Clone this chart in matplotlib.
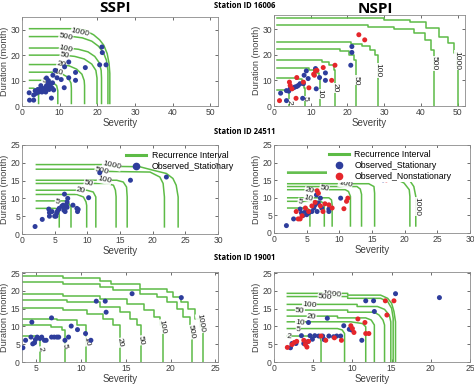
import matplotlib
matplotlib.use('Agg')
import matplotlib.pyplot as plt
from matplotlib.lines import Line2D

plt.rcParams['font.family'] = ['Liberation Sans', 'DejaVu Sans']

GREEN = '#5dbb46'
BLUE = '#2e3d9c'
RED = '#e5262b'
TXT = '#404040'

# ---------------- Panel 1: SSPI, station 16006 ----------------
p1_blue_x = [1.9, 2.0, 3.1, 3.1, 3.5, 3.8, 4.2, 4.5, 4.8, 5.0, 5.3, 5.5, 5.8, 6.0, 6.3, 6.5, 6.8, 7.0,
             7.2, 7.5, 7.8, 8.0, 8.1, 8.2, 8.4, 8.8, 9.3, 10.4, 11.2, 11.3, 12.4, 12.4, 14.2, 14.2,
             16.8, 20.6, 21.2, 21.3, 22.3, 6.5, 7.0, 5.0]
p1_blue_y = [5.2, 2.3, 2.3, 4.3, 6.0, 5.0, 6.5, 5.5, 6.0, 7.0, 5.5, 6.5, 6.0, 7.0, 5.5, 8.0, 7.0, 9.0,
             6.5, 8.0, 3.1, 7.0, 9.1, 12.1, 6.3, 14.0, 11.1, 10.4, 7.2, 15.4, 17.3, 11.1, 13.2, 10.1,
             15.1, 16.2, 23.2, 21.0, 16.2, 11.0, 10.0, 8.0]
p1_contours = {
    '1000': ([2, 14.2, 16.8, 19, 20.6, 21.7, 22.6, 23.1, 23.3, 23.3], [30.4, 30.4, 29.7, 28, 26, 23.9, 20.6, 16.7, 12.8, 1]),
    '500': ([2, 13.5, 16, 18.5, 20.3, 21.6, 22.4, 22.8, 22.8], [27.3, 27.3, 26.8, 25.5, 23.5, 21, 18, 14, 1]),
    '100': ([2, 12, 15, 17.5, 19.3, 20.5, 21, 21.1, 21.1], [22.8, 22.8, 22.3, 21.3, 19.5, 17, 14, 11, 1]),
    '50': ([2, 11, 14, 16.5, 18.5, 19.6, 19.9, 19.9], [20, 20, 19.5, 18.5, 16.5, 14, 11, 1]),
    '20': ([2, 10, 12.5, 14.5, 15.9, 16.5, 16.6, 16.6], [16.3, 16.3, 15.8, 14.5, 12.5, 10, 8, 1]),
    '10': ([2, 8, 10.5, 12.2, 13, 13.1, 13.1], [13.3, 13.3, 12.7, 11.3, 9, 7, 1]),
    '5': ([2, 6, 8, 9.2, 9.5, 9.5], [10.1, 10.1, 9.5, 8, 6, 1]),
    '2': ([2, 3, 4, 4.4, 4.4], [7, 7, 6.5, 5, 1]),
}
p1_labels = [('1000', 15.5, 28.9), ('500', 11.6, 27.1), ('100', 11.7, 22.4), ('50', 11.3, 19.9),
             ('20', 10.4, 16.2), ('10', 9.6, 13.1), ('5', 5.8, 10.0)]

# ---------------- Panel 2: NSPI, station 16006 ----------------
p2_blue_x = [1.8, 3.4, 3.4, 4.0, 4.4, 5.3, 5.7, 6.6, 7.1, 6.2, 8.0, 8.2, 8.8, 9.3, 7.8, 11.3, 11.5,
             12.4, 14.0, 14.0, 20.9, 21.2, 21.2]
p2_blue_y = [5.0, 6.0, 2.1, 5.8, 6.7, 7.1, 7.4, 8.0, 8.7, 7.6, 8.7, 12.0, 13.7, 10.7, 3.0, 14.6, 6.7,
             11.1, 12.9, 10.0, 15.9, 20.9, 23.2]
p2_red_x = [1.5, 4.2, 4.4, 6.0, 6.2, 4.9, 8.0, 9.5, 10.8, 11.3, 11.7, 11.0, 13.4, 15.7, 16.6, 23.1, 24.7]
p2_red_y = [2.1, 9.3, 8.0, 3.0, 11.1, 6.7, 9.3, 7.1, 12.4, 13.7, 13.9, 12.0, 15.0, 10.0, 15.9, 27.8, 25.8]
p2_contours = {
    '1000': ([0.8, 19.4, 30, 37, 41.5, 45, 47.3, 49, 49.9, 50.2], [34.3, 34.3, 33.7, 32.6, 30.4, 27, 24.5, 20.5, 15.3, 0]),
    '500': ([0.8, 16.8, 25.6, 32.7, 38, 41, 42.8, 43.5, 43.6], [31.7, 31.7, 31, 30, 28.4, 25.8, 21.8, 16.6, 0]),
    '100': ([0.8, 18.5, 21, 24, 26, 27.5, 28.2, 28.4], [24.9, 24.9, 24.2, 23.5, 22, 20, 17, 0]),
    '50': ([0.8, 15, 18, 20.5, 21.8, 22.3, 22.3], [22.1, 22.1, 21.3, 20, 18, 15, 0]),
    '20': ([0.8, 11, 13, 15, 16.2, 16.5, 16.5], [17.9, 17.9, 17.3, 16, 14, 11, 0]),
    '10': ([0.8, 7.5, 9.5, 11.3, 12.2, 12.4, 12.4], [14.9, 14.9, 14.2, 13, 11, 8, 0]),
    '5': ([0.8, 4, 6, 7.5, 8.2, 8.4, 8.4], [11.1, 11.1, 10.5, 9, 7, 4, 0]),
    '2': ([0.8, 2, 3, 4, 4.2, 4.2], [6.3, 6.3, 5.8, 4.5, 2, 0]),
}
p2_labels = [('1000', 49.9, 17.9), ('500', 43.6, 16.6), ('100', 28.4, 13.9), ('50', 22.3, 10.0),
             ('20', 16.5, 7.1), ('10', 12.4, 4.7), ('5', 8.4, 3.0), ('2', 4.2, 1.6)]

# ---------------- Panel 3: SSPI, station 24511 ----------------
p3_blue_x = [2.0, 3.1, 4.1, 4.2, 4.2, 4.6, 5.0, 5.2, 5.3, 5.4, 5.6, 5.7, 6.1, 6.3, 6.4, 6.5, 6.5, 6.6,
             6.8, 6.9, 7.0, 6.9, 7.8, 8.4, 8.5, 8.6, 10.2, 11.9, 16.6, 22.1]
p3_blue_y = [2.1, 4.1, 7.0, 6.0, 5.0, 6.3, 5.0, 5.0, 5.8, 6.3, 6.9, 7.2, 7.8, 8.1, 6.7, 7.2, 11.2, 6.3,
             8.1, 9.0, 10.0, 7.5, 8.1, 7.2, 6.3, 6.9, 10.2, 17.2, 15.1, 16.0]
p3_contours = {
    '1000': ([2.2, 13, 13.5, 18, 20.1, 22.1, 23.1, 23.6, 23.9, 23.9], [19.5, 19.5, 19.0, 18.9, 17.9, 17, 15.6, 13.7, 10.4, 2]),
    '500': ([2.2, 11.9, 12.3, 19.6, 21.1, 21.6, 21.8, 21.8], [18.2, 18.2, 17.6, 17.4, 16, 14.2, 10.4, 2]),
    '100': ([2.2, 14.5, 15.5, 16, 16.1, 16.1], [15.1, 15.1, 14.6, 13.2, 10.4, 2]),
    '50': ([2.2, 13, 14, 14.3, 14.4, 14.4], [14.2, 14.2, 13.7, 12.3, 10.5, 2]),
    '20': ([2.2, 9.9, 10.9, 11.3, 11.3], [12.3, 12.3, 11.8, 10.4, 2]),
    '10': ([2.2, 8.4, 9.4, 9.8, 9.9, 9.9], [11.1, 11.1, 10.4, 9, 8, 2]),
    '5': ([2.2, 6.6, 7.1, 7.5, 7.5], [9.3, 9.3, 8.8, 7.6, 2]),
    '2': ([2.2, 5.1, 5.6, 5.7, 5.7], [7.2, 7.2, 6.7, 5.3, 2]),
}
p3_labels = [('1000', 13.7, 19.1), ('500', 12.2, 17.8), ('100', 12.6, 15.1), ('50', 10.2, 14.2),
             ('20', 9.0, 12.1), ('5', 5.4, 9.1)]

# ---------------- Panel 4: NSPI, station 24511 ----------------
p4_blue_x = [1.9, 3.0, 4.0, 4.2, 4.4, 4.8, 5.0, 5.3, 5.8, 6.1, 6.3, 6.5, 6.6, 6.8, 7.1, 7.3, 8.4, 8.4,
             10.2, 11.9, 16.7, 22.2]
p4_blue_y = [2.1, 4.0, 6.8, 5.7, 4.9, 6.1, 5.2, 5.7, 6.1, 7.1, 8.0, 10.8, 6.1, 8.5, 9.9, 7.1, 6.1, 6.8,
             9.9, 17.2, 15.1, 16.0]
p4_red_x = [3.4, 3.7, 4.0, 4.3, 4.8, 5.3, 5.8, 6.3, 6.6, 6.8, 7.1, 7.5, 7.8, 8.4, 8.9, 10.7, 11.1,
            11.3, 15.3, 17.2]
p4_red_y = [6.1, 4.0, 4.0, 4.9, 7.1, 6.1, 7.7, 8.7, 12.0, 11.3, 7.7, 6.1, 8.3, 8.0, 7.1, 6.9, 9.0,
            9.9, 17.0, 15.1]
p4_contours = {
    '1000': ([2.1, 18.9, 19.4, 20.7, 21.4, 21.7, 21.7], [17.3, 17.3, 16.5, 15.1, 13.2, 10.4, 2]),
    '500': ([2.1, 16.8, 18.9, 19.9, 20.7, 20.8, 20.8], [17.0, 17.0, 15.1, 14.2, 12.3, 10.4, 2]),
    '100': ([2.1, 14.5, 15.3, 15.4, 15.4], [14.0, 14.0, 13.2, 11.3, 2]),
    '50': ([2.1, 12.7, 13.2, 13.4, 13.4], [13.2, 13.2, 12.5, 11, 2]),
    '20': ([2.1, 10.9, 11.4, 11.7, 11.7], [12.3, 12.3, 11.8, 10.4, 2]),
    '10': ([2.1, 8.4, 8.8, 8.9, 8.9], [10.0, 10.0, 9.4, 8, 2]),
    '5': ([2.1, 7.1, 7.6, 7.7, 7.7], [9.0, 9.0, 8.5, 7.3, 2]),
    '2': ([2.1, 5.0, 5.4, 5.5, 5.5], [7.1, 7.1, 6.6, 5.6, 2]),
}
p4_labels = [('500', 11.7, 16.1, -12), ('100', 10.9, 13.8, -12), ('50', 7.7, 12.7, -12),
             ('20', 5.4, 12.0, -12), ('10', 5.3, 9.9, -12), ('5', 4.0, 8.9, -12), ('1000', 21.8, 7.5, -90)]

# ---------------- Panel 5: SSPI, station 19001 ----------------
p5_blue_x = [3.5, 3.8, 4.5, 4.4, 4.6, 4.8, 4.9, 5.1, 5.4, 5.6, 5.9, 6.1, 6.7, 6.7, 7.0, 7.3, 7.5, 8.2,
             8.6, 8.9, 9.6, 10.5, 11.1, 11.7, 12.7, 12.8, 15.7, 21.2]
p5_blue_y = [4.0, 6.1, 11.2, 7.0, 5.1, 5.4, 6.3, 7.0, 6.6, 7.0, 6.1, 6.1, 12.4, 7.0, 7.0, 7.0, 7.0, 6.1,
             7.0, 10.1, 9.1, 8.0, 6.1, 17.1, 17.1, 14.0, 19.2, 18.1]
p5_contours = {
    '1000': ([3.4, 8.0, 12.1, 13.3, 16.6, 19.6, 20.3, 21.2, 22.0, 22.7, 23.3, 23.6],
             [24.2, 23.6, 22.7, 22.0, 20.6, 19.7, 18.3, 16.9, 15.0, 12.2, 9.8, 0]),
    '500': ([3.4, 8.0, 12.1, 13.6, 16.6, 18.5, 19.6, 20.7, 21.4, 22.2, 22.4],
            [22.5, 22.0, 21.1, 20.1, 19.2, 18.3, 16.9, 15.0, 12.6, 9.8, 0]),
    '100': ([3.4, 8.0, 12.1, 15.1, 17.0, 18.1, 18.8, 19.1], [19.2, 18.5, 17.8, 16.4, 14.5, 12.6, 10.3, 0]),
    '50': ([3.4, 8.4, 12.1, 14.4, 15.5, 16.2, 16.7], [17.3, 16.9, 15.4, 14.0, 12.2, 10.3, 0]),
    '20': ([3.4, 8.0, 10.7, 12.5, 13.6, 14.3], [15.2, 14.5, 13.6, 12.2, 10.3, 0]),
    '10': ([3.4, 7.3, 9.5, 10.6], [12.2, 11.7, 10.3, 0]),
    '5': ([3.4, 6.6, 7.9, 8.2], [10.3, 9.8, 8.9, 0]),
    '2': ([3.4, 5.1, 5.45], [7.3, 6.6, 0]),
}
p5_labels = [('1000', 23.3, 10.8), ('500', 22.3, 8.4), ('100', 19.1, 10.0), ('50', 16.7, 6.1),
             ('20', 14.3, 5.4), ('10', 10.6, 5.8), ('5', 8.2, 4.5), ('2', 5.45, 3.7)]

# ---------------- Panel 6: NSPI, station 19001 ----------------
p6_blue_x = [2.1, 2.3, 2.8, 4.4, 3.5, 3.8, 4.3, 4.6, 4.9, 5.2, 5.7, 6.2, 6.4, 6.8, 7.0, 7.6, 8.0, 8.5,
             8.9, 9.6, 9.9, 11.2, 11.7, 12.7, 12.8, 15.5, 21.1]
p6_blue_y = [4.0, 5.2, 5.2, 11.1, 7.4, 5.2, 5.7, 7.4, 6.4, 7.4, 7.3, 7.3, 6.3, 12.3, 7.3, 7.1, 7.3, 7.3,
             10.2, 9.2, 9.0, 6.1, 17.2, 17.2, 14.2, 19.2, 18.1]
p6_red_x = [1.7, 2.3, 2.6, 2.9, 3.8, 4.0, 4.2, 4.4, 6.0, 6.6, 7.7, 8.6, 9.8, 10.0, 10.2, 10.7, 11.6,
            11.7, 12.1, 14.2, 14.4, 15.3]
p6_red_y = [4.1, 4.9, 5.5, 5.8, 6.1, 4.9, 4.2, 5.8, 7.3, 6.1, 6.8, 6.1, 10.2, 9.4, 8.3, 12.1, 11.1,
            8.0, 8.0, 17.2, 13.2, 17.2]
p6_contours = {
    '1000': ([1.7, 9.4, 9.4, 13.6, 14.5, 15.0, 15.3, 15.5, 15.5], [19.3, 19.3, 18.8, 18.8, 17.9, 16.5, 14.2, 11.3, 0]),
    '500': ([1.7, 9.4, 9.4, 13.6, 14.5, 15.0, 15.2, 15.2], [18.4, 18.4, 17.9, 17.9, 17, 15.1, 12.3, 0]),
    '100': ([1.7, 10.6, 10.6, 13.2, 14.1, 14.7, 14.9, 14.9], [16.2, 16.2, 15.6, 15.6, 14.8, 13.2, 11.3, 0]),
    '50': ([1.7, 9.4, 9.4, 12.8, 13.4, 13.9, 14.1, 14.1], [14.6, 14.6, 14.0, 14.0, 13.2, 11.8, 10.4, 0]),
    '20': ([1.7, 8.1, 8.1, 11.7, 12.4, 12.8, 12.8], [12.9, 12.9, 12.4, 12.4, 11.8, 10.4, 0]),
    '10': ([1.7, 9.8, 11.3, 11.7, 11.7], [11.3, 11.3, 10.8, 9.9, 0]),
    '5': ([1.7, 8.1, 8.7, 9.0, 9.0], [9.4, 9.4, 9.0, 8.0, 0]),
    '2': ([1.7, 5.5, 5.9, 6.0, 6.0], [7.3, 7.3, 6.8, 5.8, 0]),
}
p6_labels = [('1000', 7.4, 19.1), ('500', 6.5, 18.3), ('100', 4.5, 16.0), ('50', 3.3, 14.4),
             ('20', 4.8, 12.8), ('10', 3.3, 10.9), ('5', 3.1, 9.2), ('2', 1.9, 7.2)]

# ---------------- drawing ----------------
W, H = 474, 385
fig = plt.figure(figsize=(W / 100, H / 100), dpi=100)


def ax_at(l, t, r, b):
    return fig.add_axes([l / W, 1 - b / H, (r - l) / W, (b - t) / H])


def style(ax, xlim, ylim, xticks, yticks):
    ax.set_xlim(*xlim)
    ax.set_ylim(*ylim)
    ax.set_xticks(xticks)
    ax.set_yticks(yticks)
    ax.tick_params(direction='in', length=2.5, width=0.6, labelsize=6.2, colors='#555555',
                   labelcolor=TXT, top=True, right=True, pad=1.5)
    for s in ax.spines.values():
        s.set_color('#8a8a8a')
        s.set_linewidth(0.6)
    ax.set_xlabel('Severity', fontsize=7, color=TXT, labelpad=0.5)
    ax.set_ylabel('Duration (month)', fontsize=6.6, color=TXT, labelpad=0.5)


def contours(ax, cdict, steps=False):
    for k, (xs, ys) in cdict.items():
        ax.plot(xs, ys, color=GREEN, lw=1.1, drawstyle='steps-post' if steps else 'default', zorder=2)


def labels(ax, labs, rot):
    for item in labs:
        if len(item) == 4:
            t, x, y, r = item
        else:
            t, x, y = item
            r = rot
        ax.text(x, y, t, fontsize=6, color='#222222', rotation=r, ha='center', va='center',
                rotation_mode='anchor', zorder=3,
                bbox=dict(facecolor='white', edgecolor='none', pad=0.2, alpha=0.9))


def dots(ax, x, y, c):
    ax.scatter(x, y, s=13, color=c, edgecolors='none', zorder=4)


ax1 = ax_at(22, 17, 218, 106)
contours(ax1, p1_contours)
labels(ax1, p1_labels, -12)
dots(ax1, p1_blue_x, p1_blue_y, BLUE)
style(ax1, (0, 52), (0, 35), [0, 10, 20, 30, 40, 50], [0, 10, 20, 30])

ax2 = ax_at(274, 15, 465, 106)
contours(ax2, p2_contours, steps=True)
labels(ax2, p2_labels, -90)
dots(ax2, p2_blue_x, p2_blue_y, BLUE)
dots(ax2, p2_red_x, p2_red_y, RED)
style(ax2, (0, 52), (0, 35.5), [0, 10, 20, 30, 40, 50], [0, 10, 20, 30])

ax3 = ax_at(22, 145, 218, 234)
contours(ax3, p3_contours)
labels(ax3, p3_labels, -12)
dots(ax3, p3_blue_x, p3_blue_y, BLUE)
style(ax3, (0, 30), (0, 25), [0, 5, 10, 15, 20, 25, 30], [0, 5, 10, 15, 20, 25])
h_line = Line2D([], [], color=GREEN, lw=2.2)
h_blue = Line2D([], [], color=BLUE, marker='o', ls='none', markersize=4.5)
h_red = Line2D([], [], color=RED, marker='o', ls='none', markersize=4.5)
ax3.legend([h_line, h_blue], ['Recurrence Interval', 'Observed_Stationary'], loc='upper left',
           bbox_to_anchor=(0.5, 1.0), frameon=False, fontsize=6.3, handlelength=2.3,
           labelspacing=0.25, handletextpad=0.6, borderpad=0.2)

ax4 = ax_at(274, 145, 470, 233)
contours(ax4, p4_contours)
labels(ax4, p4_labels, -12)
dots(ax4, p4_blue_x, p4_blue_y, BLUE)
dots(ax4, p4_red_x, p4_red_y, RED)
style(ax4, (0, 30), (0, 25), [0, 5, 10, 15, 20, 25, 30], [0, 5, 10, 15, 20, 25])
ax4.legend([h_line, h_blue, h_red], ['Recurrence Interval', 'Observed_Stationary', 'Observed_Nonstationary'],
           loc='upper left', bbox_to_anchor=(0.25, 1.01), frameon=True, facecolor='white', edgecolor='none',
           framealpha=1, fontsize=6.3, handlelength=2.3, labelspacing=0.2, handletextpad=0.6, borderpad=0.2)

ax5 = ax_at(22, 272, 218, 362)
contours(ax5, p5_contours, steps=True)
labels(ax5, p5_labels, -80)
dots(ax5, p5_blue_x, p5_blue_y, BLUE)
style(ax5, (3.4, 25.3), (0, 25.3), [5, 10, 15, 20, 25], [0, 5, 10, 15, 20, 25])

ax6 = ax_at(274, 272, 470, 362)
contours(ax6, p6_contours)
labels(ax6, p6_labels, -5)
dots(ax6, p6_blue_x, p6_blue_y, BLUE)
dots(ax6, p6_red_x, p6_red_y, RED)
style(ax6, (0, 25), (0, 25.3), [0, 5, 10, 15, 20, 25], [0, 5, 10, 15, 20, 25])

# titles
fig.text(115 / W, 1 - 8 / H, 'SSPI', fontsize=11, fontweight='bold', ha='center', va='center',
         family=['Open Sans', 'DejaVu Sans'])
fig.text(375 / W, 1 - 9 / H, 'NSPI', fontsize=11, fontweight='bold', ha='center', va='center',
         family=['Open Sans', 'DejaVu Sans'])
for txt, y in [('Station ID 16006', 5), ('Station ID 24511', 132), ('Station ID 19001', 258)]:
    fig.text(245 / W, 1 - y / H, txt, fontsize=5.5, fontweight='bold', ha='center', va='center',
             family=['Open Sans', 'DejaVu Sans'])

fig.savefig('out.png', dpi=100)
